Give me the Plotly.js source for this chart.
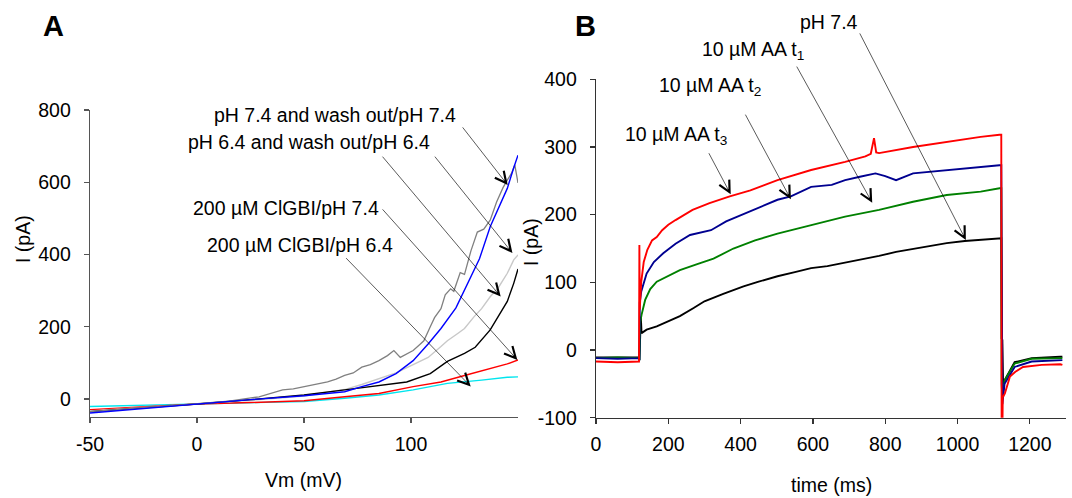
<!DOCTYPE html>
<html>
<head>
<meta charset="utf-8">
<script src="https://cdn.plot.ly/plotly-3.0.1.min.js"></script>
<style>html,body{margin:0;padding:0;background:#fff;}#chart{width:1072px;height:498px;}</style>
</head>
<body>
<div id="chart"></div>
<script>
// ---------- Panel A: I-V curves (Vm in mV, I in pA) ----------
const vmDarkGray = [-50,-40,-25,-10,0,15,29,40,45,50,55,61,65,69,73,77,81,85,89,92,95,98,101,104,106,109,111,114,116,118.5,120,123,125,128,131,134,137,140,143,145,147,148.5,150];
const iDarkGray  = [-35,-30,-24,-18,-14,-6,6,25,28,34,38,47,55,65,72,88,95,106,120,134,115,125,134,150,161,200,225,250,288,305,298,350,345,410,462,470,495,545,585,606,625,648,598];

const vmBlue = [-50,-40,-25,-10,0,25,50,61,69,77,85,93,101,108,114,121,127,132,137,141,145,148,150];
const iBlue  = [-39,-34,-26,-19,-14,-2,9,15,20,34,47,70,106,152,195,252,325,388,477,530,583,640,675];

const vmLightGray = [-50,-25,0,25,50,69,77,85,93,101,108,114,117,122,125,129.5,133,137,141,145,148,150];
const iLightGray  = [-33,-24,-14,-4,8,26,40,56,72,95,115,145,161,182,195,228,250,283,310,348,385,399];

const vmBlack = [-50,-25,0,25,50,69,85,98,109,117,125,130,137,142,145,148,150];
const iBlack  = [-35,-25,-14,-2,11,25,38,47,70,104,126,143,191,240,270,320,360];

const vmRed = [-50,-25,0,25,50,69,85,101,114,125,137,145,150];
const iRed  = [-30,-22,-14,-10,-5,6,15,34,47,65,84,97,108];

const vmCyan = [-50,-25,0,25,50,69,85,101,117,133,145,150];
const iCyan  = [-21,-18,-14,-11,-7,2,11,25,43,52,60,61];

// Panel A labels: text, arrow head (mV, pA), arrow tail (mV, pA)
const labelsA = ["pH 7.4 and wash out/pH 7.4","pH 6.4 and wash out/pH 6.4","200 \u00b5M ClGBI/pH 7.4","200 \u00b5M ClGBI/pH 6.4"];
const arrowHeadVmA = [145.2,141.9,147.4,149.7,127.9];
const arrowHeadIA  = [592,283.5,404,108,34.6];
const arrowTailVmA = [123.6,86.1,110.6,86.1,69];
const arrowTailIA  = [756,675,675,529,394];

// ---------- Panel B: current traces (time in ms, I in pA) ----------
const tRed = [0,60,119,120,121,125,132,142,155,168,183,200,220,267,314,370,427,502,595,689,745,760,769,775,783,877,970,1064,1116,1121,1122,1124,1125,1131,1145,1160,1181,1233,1284,1290];
const iRedB = [-17,-18,-17,155,60,100,130,148,162,167,177,185,192,207,217,227,236,251,266,278,286,290,313,292,291,300,308,315,318,318,-130,-130,-70,-64,-39,-32,-25,-22,-21,-22];

const tNavy = [0,60,119,120,121,125,140,160,186,220,260,318,360,408,460,502,539,595,652,689,730,773,800,830,877,970,1064,1116,1121,1122,1124,1130,1158,1205,1284,1290];
const iNavy = [-12,-13,-12,-15,70,86,113,130,143,157,170,177,190,201,212,222,227,241,244,251,256,261,257,251,261,266,271,273,273,-60,-80,-50,-25,-17,-15,-15];

const tGreen = [0,60,119,120,122,126,136,150,168,200,232,280,325,380,440,502,595,689,783,877,970,1064,1116,1121,1122,1124,1130,1158,1205,1284,1290];
const iGreen = [-12,-11,-12,-15,40,52,74,90,101,110,118,127,135,150,162,172,185,197,207,219,229,234,239,239,-50,-70,-45,-20,-13,-12,-12];

const tBlack = [0,60,119,120,124,126,140,168,200,232,270,300,352,408,450,502,550,595,640,689,740,783,830,877,920,970,1020,1064,1116,1121,1122,1124,1126,1130,1158,1205,1284,1290];
const iBlackB = [-11,-11,-11,-15,49,25,30,35,42,50,62,72,83,94,101,109,115,121,124,129,134,139,145,149,153,158,161,163,165,165,17,15,-50,-45,-18,-12,-10,-10];

// Panel B labels: text, arrow head (ms, pA), arrow tail (ms, pA)
const labelsB = ["pH 7.4","10 \u00b5M AA t<sub>1</sub>","10 \u00b5M AA t<sub>2</sub>","10 \u00b5M AA t<sub>3</sub>"];
const arrowHeadTB = [1023,764,539,372.6];
const arrowHeadIB = [162.5,217.6,222.6,230];
const arrowTailTB = [727.5,553,411,310];
const arrowTailIB = [470,421,350,293];

// Tick labels
const tickA_x = [-50,0,50,100];
const tickA_y = [0,200,400,600,800];
const tickB_x = [0,200,400,600,800,1000,1200];
const tickB_y = [-100,0,100,200,300,400];

const FONT = "Liberation Sans, Arial, sans-serif";
const FS = 19.5;
const W = 1072, H = 498;
const px = v => v / W;
const py = v => 1 - v / H;

function line(x, y, color, xa, ya, w) {
  return {x: x, y: y, type: 'scatter', mode: 'lines', xaxis: xa, yaxis: ya,
          line: {color: color, width: w}, hoverinfo: 'skip'};
}

const traces = [
  line(vmCyan, iCyan, '#00e5ee', 'x', 'y', 1.4),
  line(vmRed, iRed, '#ff0000', 'x', 'y', 1.4),
  line(vmLightGray, iLightGray, '#c8c8c8', 'x', 'y', 1.4),
  line(vmBlack, iBlack, '#000000', 'x', 'y', 1.4),
  line(vmDarkGray, iDarkGray, '#808080', 'x', 'y', 1.3),
  line(vmBlue, iBlue, '#0000ff', 'x', 'y', 1.4),
  line(tBlack, iBlackB, '#000000', 'x2', 'y2', 1.9),
  line(tGreen, iGreen, '#008000', 'x2', 'y2', 1.9),
  line(tNavy, iNavy, '#000090', 'x2', 'y2', 1.9),
  line(tRed, iRedB, '#ff0000', 'x2', 'y2', 1.9)
];

const annotations = [];
function txt(text, x, y, opts) {
  annotations.push(Object.assign({text: text, x: px(x), y: py(y), xref: 'paper', yref: 'paper',
    showarrow: false, xanchor: 'left', yanchor: 'middle',
    font: {family: FONT, size: FS, color: '#000'}}, opts || {}));
}
function arrow(xa, ya, hx, hy, tx, ty) {
  annotations.push({text: '', x: hx, y: hy, xref: xa, yref: ya, axref: xa, ayref: ya,
    ax: tx, ay: ty, showarrow: true, arrowhead: 5, arrowsize: 3.4, arrowwidth: 0.65,
    arrowcolor: '#000', standoff: 0, startstandoff: 0});
}

// Panel A text labels
const labelAPos = [[212,115],[186,141.7],[191,208],[205,245]];
labelsA.forEach((t, i) => txt(t, labelAPos[i][0], labelAPos[i][1]));
for (let i = 0; i < arrowHeadVmA.length; i++) arrow('x', 'y', arrowHeadVmA[i], arrowHeadIA[i], arrowTailVmA[i], arrowTailIA[i]);

// Panel B text labels
const labelBPos = [[798,21.7],[699.5,50],[657,87],[623,135]];
labelsB.forEach((t, i) => txt(t, labelBPos[i][0], labelBPos[i][1]));
for (let i = 0; i < arrowHeadTB.length; i++) arrow('x2', 'y2', arrowHeadTB[i], arrowHeadIB[i], arrowTailTB[i], arrowTailIB[i]);

// Panel letters
txt('<b>A</b>', 53, 26, {xanchor: 'center', font: {family: FONT, size: 29, color: '#000'}});
txt('<b>B</b>', 585, 26, {xanchor: 'center', font: {family: FONT, size: 29, color: '#000'}});

// Axis titles
txt('Vm (mV)', 303, 480, {xanchor: 'center'});
txt('time (ms)', 831.5, 485, {xanchor: 'center'});
txt('I (pA)', 23, 239, {xanchor: 'center', textangle: -90});
txt('I (pA)', 531, 242, {xanchor: 'center', textangle: -90});

function axis(domain, range, tickvals, color, extra) {
  return Object.assign({domain: domain, range: range, tickvals: tickvals, ticktext: tickvals.map(String),
    showgrid: false, zeroline: false, showline: true, linecolor: color, linewidth: 1.3,
    ticks: 'outside', ticklen: 5, tickwidth: 1.2, tickcolor: color,
    tickfont: {family: FONT, size: FS, color: '#000'}, fixedrange: true}, extra || {});
}

const layout = {
  width: W, height: H,
  margin: {l: 0, r: 0, t: 0, b: 0, pad: 0},
  paper_bgcolor: '#fff', plot_bgcolor: '#fff',
  showlegend: false,
  xaxis: axis([px(90), px(518)], [-50, 150], tickA_x, '#555', {anchor: 'y', ticklabelstandoff: 4}),
  yaxis: axis([py(417), py(110)], [-50, 800], tickA_y, '#555', {anchor: 'x', ticklabelstandoff: 9}),
  xaxis2: axis([px(596), px(1066)], [0, 1300], tickB_x, '#333', {anchor: 'y2', ticklabelstandoff: 4}),
  yaxis2: axis([py(417.7), py(79.3)], [-100, 400], tickB_y, '#333', {anchor: 'x2', ticklabelstandoff: 9}),
  annotations: annotations
};

Plotly.newPlot('chart', traces, layout, {displayModeBar: false, staticPlot: true});
</script>
</body>
</html>
